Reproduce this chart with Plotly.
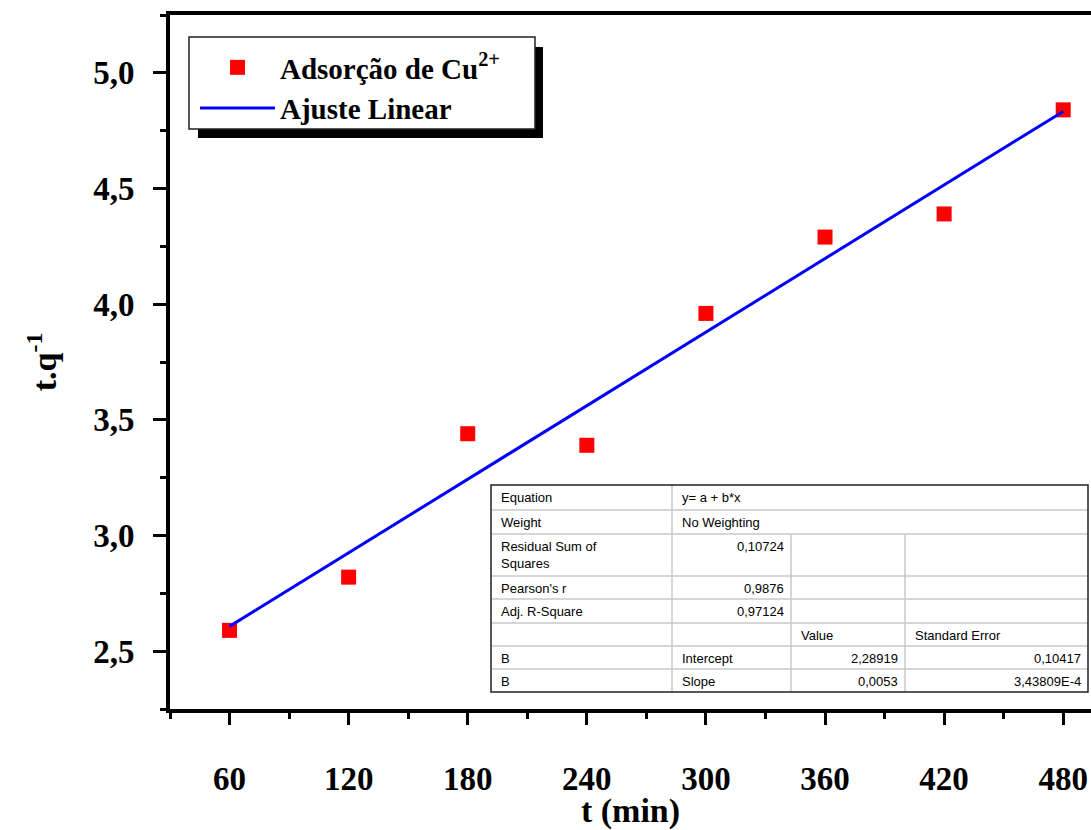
import plotly.graph_objects as go

# ---- data ----
t_min = [60, 120, 180, 240, 300, 360, 420, 480]
tq = [2.59, 2.82, 3.44, 3.39, 3.96, 4.29, 4.39, 4.84]
fit_intercept = 2.28919
fit_slope = 0.0053
x_ticks = [60, 120, 180, 240, 300, 360, 420, 480]
y_ticks = [2.5, 3.0, 3.5, 4.0, 4.5, 5.0]

table_rows = [
    ["Equation", "y= a + b*x", "", ""],
    ["Weight", "No Weighting", "", ""],
    ["Residual Sum of<br>Squares", "0,10724", "", ""],
    ["Pearson's r", "0,9876", "", ""],
    ["Adj. R-Square", "0,97124", "", ""],
    ["", "", "Value", "Standard Error"],
    ["B", "Intercept", "2,28919", "0,10417"],
    ["B", "Slope", "0,0053", "3,43809E-4"],
]

fit_x = [t_min[0], t_min[-1]]
fit_y = [fit_intercept + fit_slope * v for v in fit_x]

W, H = 1091, 830
ML, MR, MT, MB = 170, 0, 15, 121
PW, PH = W - ML - MR, H - MT - MB

def px(p):
    return (p - ML) / PW

def py(p):
    return 1 - (p - MT) / PH

serif = "Liberation Serif"
sans = "Liberation Sans"

fig = go.Figure()
fig.add_trace(go.Scatter(
    x=t_min, y=tq, mode="markers", name="Adsorção de Cu<sup>2+</sup>",
    marker=dict(symbol="square", size=15, color="#ff0000"),
))
fig.add_trace(go.Scatter(
    x=fit_x, y=fit_y, mode="lines", name="Ajuste Linear",
    line=dict(color="#0000ff", width=3),
))

shapes = []
annotations = []

# legend frame with shadow
shapes.append(dict(type="rect", xref="paper", yref="paper",
                   x0=px(198), x1=px(543), y0=py(138), y1=py(47),
                   fillcolor="black", line=dict(width=0), layer="below"))
shapes.append(dict(type="rect", xref="paper", yref="paper",
                   x0=px(189), x1=px(535), y0=py(129), y1=py(37),
                   fillcolor="white", line=dict(color="#202020", width=1.5), layer="below"))

# table
col_x = [491, 672, 791, 905, 1088]
row_y = [485, 510, 534, 576, 599, 623, 646, 669, 692]
shapes.append(dict(type="rect", xref="paper", yref="paper",
                   x0=px(col_x[0]), x1=px(col_x[-1]), y0=py(row_y[-1]), y1=py(row_y[0]),
                   fillcolor="white", line=dict(width=0), layer="above"))
gray = "#c8c8c8"
for i in range(1, len(row_y) - 1):
    shapes.append(dict(type="line", xref="paper", yref="paper",
                       x0=px(col_x[0]), x1=px(col_x[-1]), y0=py(row_y[i]), y1=py(row_y[i]),
                       line=dict(color=gray, width=1.5), layer="above"))
shapes.append(dict(type="line", xref="paper", yref="paper",
                   x0=px(col_x[1]), x1=px(col_x[1]), y0=py(row_y[-1]), y1=py(row_y[0]),
                   line=dict(color=gray, width=1.5), layer="above"))
for c in (2, 3):
    shapes.append(dict(type="line", xref="paper", yref="paper",
                       x0=px(col_x[c]), x1=px(col_x[c]), y0=py(row_y[-1]), y1=py(row_y[2]),
                       line=dict(color=gray, width=1.5), layer="above"))
shapes.append(dict(type="rect", xref="paper", yref="paper",
                   x0=px(col_x[0]), x1=px(col_x[-1]), y0=py(row_y[-1]), y1=py(row_y[0]),
                   line=dict(color="#202020", width=1.5), layer="above"))

tfont = dict(family=sans, size=13, color="black")
for r, row in enumerate(table_rows):
    ytop = row_y[r] + 3
    for c, txt in enumerate(row):
        if not txt:
            continue
        right_align = (c == 1 and r in (2, 3, 4)) or (c >= 2 and r >= 6)
        if right_align:
            xa, xp = "right", col_x[c + 1] - 5
        else:
            xa, xp = "left", col_x[c] + 8
        annotations.append(dict(text=txt, xref="paper", yref="paper",
                                x=px(xp), y=py(ytop), xanchor=xa, yanchor="top",
                                showarrow=False, font=tfont, align="left"))

fig.update_layout(
    width=W, height=H,
    margin=dict(l=ML, r=MR, t=MT, b=MB, pad=0, autoexpand=False),
    paper_bgcolor="white", plot_bgcolor="white",
    separators=",.",
    showlegend=True,
    legend=dict(x=px(195), y=py(42), xanchor="left", yanchor="top",
                bgcolor="rgba(0,0,0,0)", borderwidth=0,
                font=dict(family=serif, size=29, color="black", weight="bold"),
                itemwidth=75, tracegroupgap=0),
    xaxis=dict(range=[30, 494], tickvals=x_ticks, ticktext=[str(v) for v in x_ticks],
               ticks="outside", ticklen=12, tickwidth=3, tickcolor="black",
               showline=True, linewidth=4, linecolor="black", mirror=True,
               showgrid=False, zeroline=False, ticklabelstandoff=25, automargin=False,
               minor=dict(dtick=30, tick0=30, ticks="outside", ticklen=6, tickwidth=3,
                          tickcolor="black", showgrid=False),
               tickfont=dict(family=serif, size=33, color="black", weight="bold"),
               title=dict(text="t (min)", standoff=7,
                          font=dict(family=serif, size=34, color="black", weight="bold"))),
    yaxis=dict(range=[2.25, 5.25], tickvals=y_ticks, tickformat=".1f",
               ticks="outside", ticklen=13, tickwidth=3, tickcolor="black",
               showline=True, linewidth=4, linecolor="black", mirror=False,
               showgrid=False, zeroline=False, ticklabelstandoff=12, automargin=False,
               minor=dict(dtick=0.25, tick0=2.25, ticks="outside", ticklen=6, tickwidth=3,
                          tickcolor="black", showgrid=False),
               tickfont=dict(family=serif, size=33, color="black", weight="bold"),
               title=dict(text="t.q<sup>-1</sup>", standoff=27,
                          font=dict(family=serif, size=34, color="black", weight="bold"))),
    shapes=shapes,
    annotations=annotations,
)

fig.write_html("out.html")
